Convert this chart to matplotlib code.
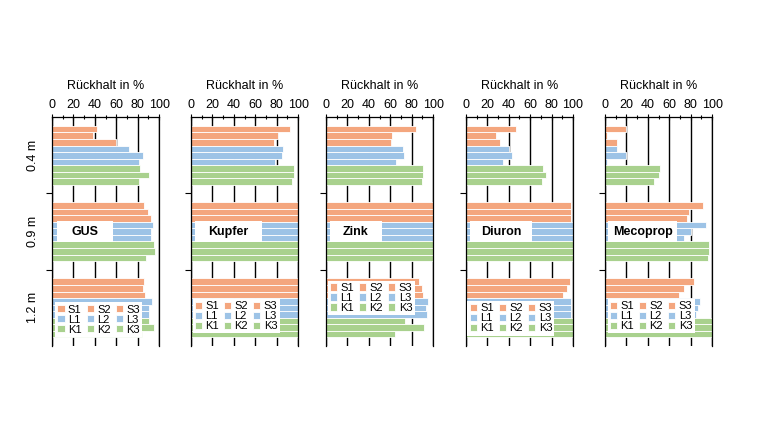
import numpy as np
import matplotlib
matplotlib.use('Agg')
import matplotlib.pyplot as plt
from matplotlib.patches import Rectangle

plt.rcParams['font.family'] = ['Liberation Sans', 'DejaVu Sans']

depths = ['0.4 m', '0.9 m', '1.2 m']
series = ['S1', 'S2', 'S3', 'L1', 'L2', 'L3', 'K1', 'K2', 'K3']
colors = ['#F4A67E'] * 3 + ['#9DC3E6'] * 3 + ['#A9D18E'] * 3

# Rueckhalt in % per depth (rows) and series S1..K3 (columns)
gus = [[42, 38, 60, 72, 85, 81, 82, 91, 81],
       [86, 90, 92, 94, 92, 92, 95, 96.5, 88],
       [86, 84.5, 87, 93, 91, 91, 91, 95, 84]]
kupfer = [[92.5, 81, 77, 85.5, 84.5, 78, 96, 96, 94.5],
          [100, 100, 100, 100, 100, 100, 100, 100, 100],
          [100, 100, 100, 100, 100, 100, 100, 100, 100]]
zink = [[84, 62, 60.5, 72, 73, 65, 90.5, 90.5, 90],
        [100, 100, 100, 100, 100, 100, 100, 100, 100],
        [87, 90, 91, 95, 93, 94.5, 74, 91.5, 64.5]]
diuron = [[47, 28, 31.5, 40.5, 43, 34.5, 72, 74.5, 71],
          [98.5, 98.5, 98.5, 100, 100, 100, 100, 100, 100],
          [97, 94, 90.5, 98, 98.5, 98, 100, 100, 100]]
mecoprop = [[20, 1.5, 11, 11, 20, 2, 51, 50, 45.5],
            [91.5, 78, 77, 94.5, 80, 74, 97.5, 97, 96],
            [83.5, 74, 69, 88.5, 86.5, 85, 100, 100, 99.5]]

panels = ['GUS', 'Kupfer', 'Zink', 'Diuron', 'Mecoprop']
values = [gus, kupfer, zink, diuron, mecoprop]

lefts = [0.0684, 0.2513, 0.4289, 0.613, 0.796]
box_x = [0.047, 0.037, 0.037, 0.037, 0.028]
box_w = [0.523, 0.626, 0.486, 0.58, 0.645]
leg_xy = [(0.03, 0.04), (0.015, 0.055), (0.015, 0.135), (0.015, 0.045), (0.025, 0.055)]

fig = plt.figure(figsize=(7.6, 4.4), dpi=100)
h = 0.0858
order = [0, 3, 6, 1, 4, 7, 2, 5, 8]

for k, name in enumerate(panels):
    ax = fig.add_axes([lefts[k], 0.2136, 0.141, 0.520])
    data = np.array(values[k])
    bars = []
    for j in range(9):
        b = ax.barh(np.arange(3) + (j - 4) * h, data[:, j], height=h,
                    color=colors[j], edgecolor='white', linewidth=0.6,
                    label=series[j], zorder=2)
        bars.append(b)

    ax.set_xlim(0, 100)
    ax.set_ylim(2.5, -0.5)
    ax.xaxis.tick_top()
    ax.xaxis.set_label_position('top')
    ax.set_xticks(range(0, 101, 20))
    ax.set_xticks(range(10, 100, 20), minor=True)
    ax.tick_params(axis='x', which='major', direction='inout', length=5,
                   width=0.8, pad=2, labelsize=9)
    ax.tick_params(axis='x', which='minor', direction='inout', length=3, width=0.8)
    ax.set_xlabel('Rückhalt in %', fontsize=9, labelpad=7)

    ax.set_yticks([0.5, 1.5])
    ax.set_yticklabels([])
    ax.set_yticks([0, 1, 2], minor=True)
    ax.tick_params(axis='y', which='major', direction='out', length=4, width=0.8)
    ax.tick_params(axis='y', which='minor', length=0, pad=9, labelsize=9)
    if k == 0:
        ax.set_yticklabels(depths, minor=True, rotation=90, va='center')
    else:
        ax.set_yticklabels([], minor=True)

    ax.grid(axis='x', which='major', color='black', linewidth=1.0)
    ax.set_axisbelow(True)
    ax.spines['bottom'].set_visible(False)
    for s in ['top', 'left', 'right']:
        ax.spines[s].set_linewidth(0.9)

    ax.add_patch(Rectangle((box_x[k], 0.454), box_w[k], 0.092,
                           transform=ax.transAxes, facecolor='white',
                           edgecolor='none', zorder=4))
    ax.text(box_x[k] + box_w[k] / 2, 0.5, name, transform=ax.transAxes,
            ha='center', va='center', fontsize=9, fontweight='bold', zorder=5)

    leg = ax.legend([bars[i] for i in order], [series[i] for i in order],
                    ncol=3, loc='lower left', bbox_to_anchor=leg_xy[k],
                    fontsize=8, frameon=True, fancybox=False,
                    edgecolor='none', framealpha=1, borderpad=0.2,
                    labelspacing=0.0, handlelength=0.65, handleheight=0.65,
                    handletextpad=0.3, columnspacing=0.45, borderaxespad=0)
    leg.set_zorder(6)

fig.savefig('out.png', dpi=100)
